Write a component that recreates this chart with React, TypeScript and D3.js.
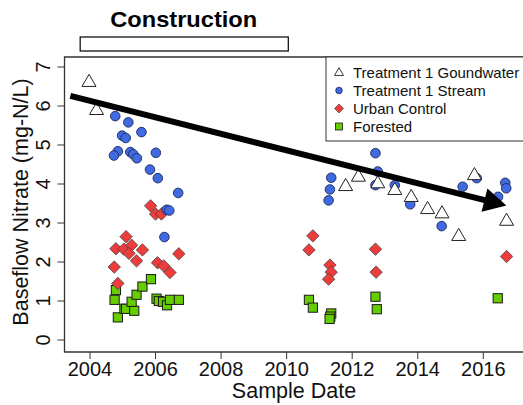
import React from "react";
import * as d3 from "d3";

// ---- Data (year, nitrate mg-N/L) ----
const gwYears = [2003.97, 2004.2, 2011.8, 2012.19, 2012.78, 2013.3, 2013.8, 2014.3, 2014.74, 2015.25, 2015.73, 2016.71];
const gwValues = [6.62, 5.9, 3.95, 4.19, 4.02, 3.85, 3.67, 3.36, 3.25, 2.67, 4.23, 3.06];

const streamYears = [
  2004.77, 2005.17, 2005.57, 2004.98, 2005.09, 2004.85, 2004.73, 2005.23, 2005.32, 2005.43,
  2006.01, 2005.83, 2006.07, 2006.69, 2006.34, 2006.42, 2006.27,
  2012.71, 2011.36, 2011.32, 2011.28, 2012.78, 2012.71, 2013.3, 2013.77, 2014.73, 2015.37,
  2015.8, 2016.45, 2016.67, 2016.7,
];
const streamValues = [
  5.74, 5.58, 5.33, 5.24, 5.18, 4.84, 4.73, 4.82, 4.76, 4.66,
  4.8, 4.37, 4.15, 3.77, 3.34, 3.32, 2.64,
  4.79, 4.16, 3.86, 3.58, 4.32, 3.97, 3.97, 3.48, 2.92, 3.93,
  4.15, 3.67, 4.03, 3.89,
];

const urbanYears = [
  2005.85, 2006.0, 2006.18, 2005.1, 2004.79, 2005.03, 2005.27, 2005.19, 2005.6, 2005.42,
  2006.71, 2004.74, 2006.06, 2006.25, 2006.44, 2004.85,
  2010.8, 2010.68, 2011.32, 2011.36, 2011.28, 2012.71, 2012.73, 2016.71,
];
const urbanValues = [
  3.44, 3.23, 3.23, 2.65, 2.34, 2.33, 2.43, 2.22, 2.31, 2.03,
  2.21, 1.87, 1.98, 1.9, 1.73, 1.45,
  2.67, 2.31, 1.92, 1.74, 1.56, 2.33, 1.74, 2.14,
];

const forestYears = [
  2004.79, 2004.75, 2004.85, 2005.05, 2005.1, 2005.35, 2005.27, 2005.42, 2005.6, 2005.86,
  2006.03, 2006.1, 2006.23, 2006.35, 2006.44, 2006.71,
  2010.68, 2010.8, 2011.36, 2011.33, 2011.31, 2012.71, 2012.75, 2016.44,
];
const forestValues = [
  1.28, 1.03, 0.58, 0.8, 0.8, 0.75, 0.98, 1.16, 1.37, 1.56,
  1.06, 1.0, 0.98, 0.89, 1.03, 1.03,
  1.03, 0.83, 0.68, 0.6, 0.54, 1.11, 0.79, 1.07,
];

const xTicks = [2004, 2006, 2008, 2010, 2012, 2014, 2016];
const yTicks = [0, 1, 2, 3, 4, 5, 6, 7];

const constructionPeriod = [2003.7, 2010.05];
const trendArrow = { from: [2003.4, 6.26], to: [2016.64, 3.46] };

const legendLabels = ["Treatment 1 Goundwater", "Treatment 1 Stream", "Urban Control", "Forested"];

const BLUE = "#4169E1";
const RED = "#EE3B3B";
const GREEN = "#66CD00";

const FONT = "Liberation Sans, Arial, sans-serif";

function triPath(cx: number, cy: number, s: number) {
  const h = s * 0.866;
  return `M${cx},${cy - h * 0.62} L${cx + s / 2},${cy + h * 0.38} L${cx - s / 2},${cy + h * 0.38} Z`;
}
function diamondPath(cx: number, cy: number, r: number) {
  return `M${cx},${cy - r} L${cx + r},${cy} L${cx},${cy + r} L${cx - r},${cy} Z`;
}

export default function App() {
  const W = 523;
  const H = 405;
  const x = d3.scaleLinear().domain([2004, 2016]).range([90, 483.3]);
  const y = d3.scaleLinear().domain([0, 7]).range([340, 67]);

  const left = 64.5;
  const top = 57;
  const bottom = 352;

  const ax = x(trendArrow.from[0]);
  const ay = y(trendArrow.from[1]);
  const bx = x(trendArrow.to[0]);
  const by = y(trendArrow.to[1]);
  const ang = Math.atan2(by - ay, bx - ax);
  const headLen = 22;
  const spread = (28 * Math.PI) / 180;
  const w1 = [bx - headLen * Math.cos(ang - spread), by - headLen * Math.sin(ang - spread)];
  const w2 = [bx - headLen * Math.cos(ang + spread), by - headLen * Math.sin(ang + spread)];
  const shaftEnd = [bx - 12 * Math.cos(ang), by - 12 * Math.sin(ang)];

  const legX = 326;
  const legRows = [72.5, 90.5, 108.5, 126.5];

  return (
    <svg width={W} height={H} style={{ position: "absolute", left: 0, top: 0, background: "#fff" }} fontFamily={FONT}>
      <rect x={0} y={0} width={W} height={H} fill="#fff" />
      {/* Construction */}
      <text
        x={(x(constructionPeriod[0]) + x(constructionPeriod[1])) / 2 - 0.5}
        y={27}
        textAnchor="middle"
        fontWeight="bold"
        fontSize={22.5}
        textLength={147}
        lengthAdjust="spacingAndGlyphs"
        fill="#000"
      >
        Construction
      </text>
      <rect
        x={x(constructionPeriod[0])}
        y={37}
        width={x(constructionPeriod[1]) - x(constructionPeriod[0])}
        height={14}
        fill="#fff"
        stroke="#000"
        strokeWidth={1.2}
      />

      {/* plot box */}
      <path d={`M${W + 5},${top} L${left},${top} L${left},${bottom} L${W + 5},${bottom}`} fill="none" stroke="#333" strokeWidth={1.3} />

      {/* x axis ticks */}
      {xTicks.map((t) => (
        <g key={t}>
          <line x1={x(t)} x2={x(t)} y1={bottom} y2={bottom + 7} stroke="#333" strokeWidth={1} />
          <text x={x(t)} y={376} textAnchor="middle" fontSize={20} fill="#111">
            {t}
          </text>
        </g>
      ))}
      <text x={294} y={398} textAnchor="middle" fontSize={21.5} fill="#111">
        Sample Date
      </text>

      {/* y axis ticks */}
      {yTicks.map((t) => (
        <g key={t}>
          <line x1={left} x2={left - 7} y1={y(t)} y2={y(t)} stroke="#333" strokeWidth={1} />
          <text transform={`translate(50,${y(t)}) rotate(-90)`} textAnchor="middle" fontSize={20} fill="#111">
            {t}
          </text>
        </g>
      ))}
      <text transform={`translate(28,202) rotate(-90)`} textAnchor="middle" fontSize={21.5} fill="#111">
        Baseflow Nitrate (mg-N/L)
      </text>

      {/* Forested */}
      {forestYears.map((yr, i) => (
        <rect key={`f${i}`} x={x(yr) - 4.6} y={y(forestValues[i]) - 4.6} width={9.2} height={9.2} fill={GREEN} stroke="#1a1a1a" strokeWidth={1} />
      ))}
      {/* Urban */}
      {urbanYears.map((yr, i) => (
        <path key={`u${i}`} d={diamondPath(x(yr), y(urbanValues[i]), 6.2)} fill={RED} stroke="#444" strokeWidth={0.8} />
      ))}
      {/* Stream */}
      {streamYears.map((yr, i) => (
        <circle key={`s${i}`} cx={x(yr)} cy={y(streamValues[i])} r={4.8} fill={BLUE} stroke="#1a2a5a" strokeWidth={0.9} />
      ))}
      {/* Groundwater */}
      {gwYears.map((yr, i) => (
        <path key={`g${i}`} d={triPath(x(yr), y(gwValues[i]), 14)} fill="#fff" stroke="#222" strokeWidth={1} />
      ))}

      {/* trend arrow */}
      <line x1={ax} y1={ay} x2={shaftEnd[0]} y2={shaftEnd[1]} stroke="#000" strokeWidth={6} />
      <path d={`M${bx},${by} L${w1[0]},${w1[1]} L${w2[0]},${w2[1]} Z`} fill="#000" stroke="#000" strokeWidth={2} strokeLinejoin="miter" />

      {/* legend */}
      <rect x={legX} y={top} width={W} height={84} fill="#fff" stroke="#333" strokeWidth={1} />
      <path d={triPath(339, legRows[0], 9)} fill="#fff" stroke="#222" strokeWidth={0.9} />
      <circle cx={339} cy={legRows[1]} r={3.3} fill={BLUE} stroke="#1a2a5a" strokeWidth={0.8} />
      <path d={diamondPath(339, legRows[2], 4.5)} fill={RED} stroke="#444" strokeWidth={0.7} />
      <rect x={335.5} y={legRows[3] - 3.5} width={7} height={7} fill={GREEN} stroke="#1a1a1a" strokeWidth={0.8} />
      {legendLabels.map((l, i) => (
        <text key={l} x={353} y={legRows[i] + 5.3} fontSize={15} fill="#111">
          {l}
        </text>
      ))}
    </svg>
  );
}
